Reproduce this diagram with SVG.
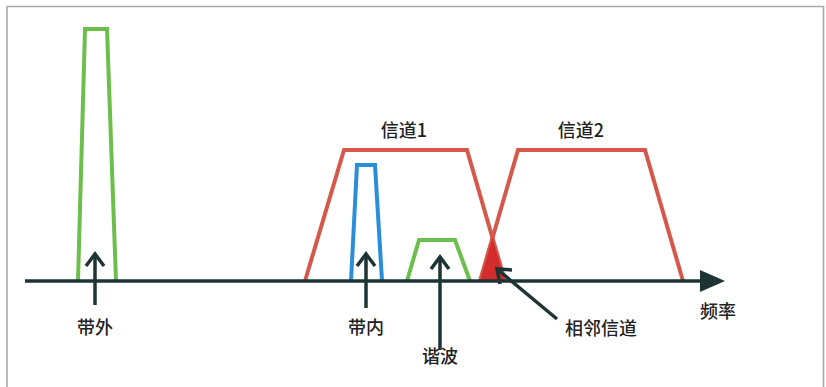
<svg xmlns="http://www.w3.org/2000/svg" width="826" height="387" viewBox="0 0 826 387">
<style>
.lbl{font-family:"Noto Sans CJK SC","Liberation Sans",sans-serif;font-size:18px;font-weight:500;fill:#222;text-anchor:middle}
.red{fill:none;stroke:#d4594b;stroke-width:4;stroke-linejoin:miter}
.grn{fill:none;stroke:#6cbf4c;stroke-width:4}
.blu{fill:none;stroke:#2a8fd6;stroke-width:4}
.ax{stroke:#1e3434;stroke-width:3.5;fill:none}
.chev{stroke:#1e3434;stroke-width:3.5;fill:none;stroke-linecap:butt}
</style>
<rect x="0" y="0" width="826" height="387" fill="#fff"/>
<path d="M7,395 V6.5 H823.5 V395" fill="none" stroke="#aaa" stroke-width="1.6"/>
<g id="out-of-band-signal">
<path class="grn" d="M78,281 L85,29 L107,29 L116,281"/>
</g>
<g id="channel1">
<path class="red" d="M305,281 L344,150 L467,150 L505,281"/>
<text class="lbl" x="404" y="137">信道1</text>
</g>
<g id="channel2">
<path class="red" d="M480,281 L518,150 L645,150 L683,281"/>
<text class="lbl" x="581" y="137">信道2</text>
</g>
<g id="overlap">
<polygon points="480,281 505,281 492.5,238" fill="#d42c2c"/>
</g>
<g id="in-band-signal">
<path class="blu" d="M351,281 L357,165 L375,165 L382,281"/>
</g>
<g id="harmonic-signal">
<path class="grn" d="M407,281 L419,240 L455,240 L470,281"/>
</g>
<g id="axis">
<line class="ax" x1="25" y1="281" x2="704" y2="281"/>
<polygon points="700,270 725,281 700,292" fill="#1e3434"/>
<text class="lbl" x="718" y="318">频率</text>
</g>
<g id="connectors">
<line class="chev" x1="95" y1="305" x2="95" y2="254"/>
<path class="chev" d="M86,266 L95,254 L104,266"/>
<line class="chev" x1="366" y1="308" x2="366" y2="254"/>
<path class="chev" d="M357,266 L366,254 L375,266"/>
<line class="chev" x1="440" y1="350" x2="440" y2="257"/>
<path class="chev" d="M431,269 L440,257 L449,269"/>
<line class="chev" x1="557" y1="319" x2="497" y2="269"/>
<path class="chev" d="M500,284 L497,269 L512,270"/>
</g>
<g id="labels">
<text class="lbl" x="95" y="334">带外</text>
<text class="lbl" x="366" y="334">带内</text>
<text class="lbl" x="440" y="363">谐波</text>
<text class="lbl" x="601" y="335">相邻信道</text>
</g>
</svg>
